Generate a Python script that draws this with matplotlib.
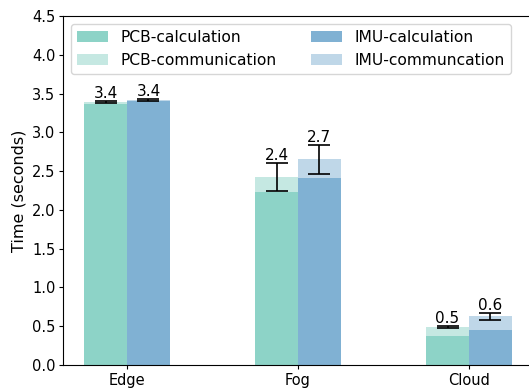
import numpy as np
import matplotlib
matplotlib.use("Agg")
import matplotlib.pyplot as plt

# data
layers = ["Edge", "Fog", "Cloud"]
pcb_calc = [3.37, 2.23, 0.37]
pcb_comm = [0.02, 0.19, 0.12]
pcb_err = [0.01, 0.18, 0.01]
imu_calc = [3.40, 2.41, 0.45]
imu_comm = [0.02, 0.24, 0.18]
imu_err = [0.01, 0.19, 0.045]

PCB_COLOR = "#8dd3c7"
IMU_COLOR = "#80b1d3"

fig = plt.figure(figsize=(5.29, 3.89), dpi=100)
ax = fig.add_axes([63 / 529, 24 / 389, 470 / 529, 349 / 389])

x = np.arange(len(layers))
w = 0.25

pcb_tot = np.array(pcb_calc) + np.array(pcb_comm)
imu_tot = np.array(imu_calc) + np.array(imu_comm)

ax.bar(x - w / 2, pcb_calc, w, color=PCB_COLOR, label="PCB-calculation")
ax.bar(x - w / 2, pcb_comm, w, bottom=pcb_calc, color=PCB_COLOR, alpha=0.5,
       label="PCB-communication")
ax.bar(x + w / 2, imu_calc, w, color=IMU_COLOR, label="IMU-calculation")
ax.bar(x + w / 2, imu_comm, w, bottom=imu_calc, color=IMU_COLOR, alpha=0.5,
       label="IMU-communcation")

ax.errorbar(x - w / 2, pcb_tot, yerr=pcb_err, fmt="none", ecolor="black",
            capsize=8, elinewidth=1.2, capthick=1.2)
ax.errorbar(x + w / 2, imu_tot, yerr=imu_err, fmt="none", ecolor="black",
            capsize=8, elinewidth=1.2, capthick=1.2)

for xi, tot, err in zip(x - w / 2, pcb_tot, pcb_err):
    ax.text(xi, tot + err, f"{tot:.1f}", ha="center", va="bottom", fontsize=11)
for xi, tot, err in zip(x + w / 2, imu_tot, imu_err):
    ax.text(xi, tot + err, f"{tot:.1f}", ha="center", va="bottom", fontsize=11)

ax.set_xticks(x)
ax.set_xticklabels(layers)
ax.tick_params(labelsize=10.5, length=3, pad=2.5)
ax.set_ylim(0, 4.5)
ax.set_yticks(np.arange(0, 4.51, 0.5))
ax.set_ylabel("Time (seconds)", fontsize=11.5)

# legend order: column 1 PCB, column 2 IMU
ax.legend(loc="upper left", ncol=2, fontsize=11.2, columnspacing=2.2)

plt.savefig("out.png", dpi=100)
